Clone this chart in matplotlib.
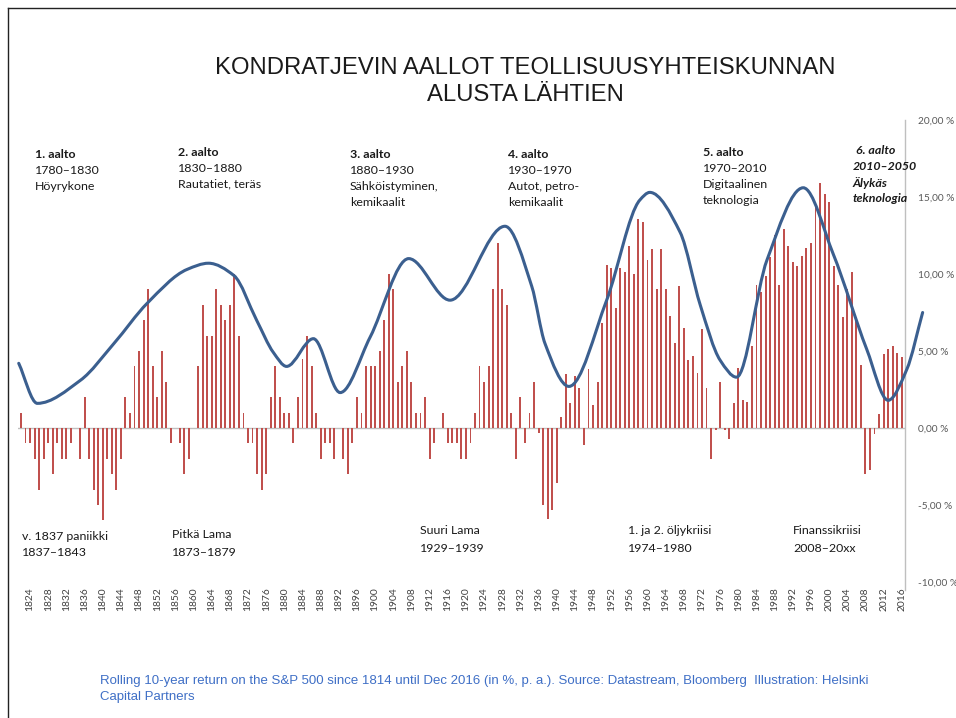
import matplotlib
matplotlib.use("Agg")
import matplotlib.pyplot as plt
from matplotlib.path import Path
from matplotlib.patches import PathPatch
from matplotlib.lines import Line2D

# ---------------- data ----------------
first_year = 1822
returns = [
    1, -1, -1, -2, -4, -2, -1, -3, -1, -2,          # 1822-1831
    -2, -1, 0, -2, 2, -2, -4, -5, -6, -2,           # 1832-1841
    -3, -4, -2, 2, 1, 4, 5, 7, 9, 4,                # 1842-1851
    2, 5, 3, -1, 0, -1, -3, -2, 0, 4,               # 1852-1861
    8, 6, 6, 9, 8, 7, 8, 10, 6, 1,                  # 1862-1871
    -1, -1, -3, -4, -3, 2, 4, 2, 1, 1,              # 1872-1881
    -1, 2, 4.5, 6, 4, 1, -2, -1, -1, -2,            # 1882-1891
    0, -2, -3, -1, 2, 1, 4, 4, 4, 5,                # 1892-1901
    7, 10, 9, 3, 4, 5, 3, 1, 1, 2,                  # 1902-1911
    -2, -1, 0, 1, -1, -1, -1, -2, -2, -1,           # 1912-1921
    1, 4, 3, 4, 9, 12, 9, 8, 1, -2,                 # 1922-1931
    2, -1, 1, 3, -0.3, -5.0, -5.9, -5.3, -3.6, 0.7, # 1932-1941
    3.5, 1.6, 3.4, 2.6, -1.1, 3.8, 1.5, 3.0, 6.8, 10.6,   # 1942-1951
    10.4, 7.8, 10.4, 10.1, 11.8, 10.0, 13.6, 13.4, 10.9, 11.6,  # 1952-1961
    9.0, 11.6, 9.0, 7.3, 5.5, 9.2, 6.5, 4.4, 4.7, 3.6,    # 1962-1971
    6.4, 2.6, -2.0, -0.1, 3.0, -0.1, -0.7, 1.6, 3.9, 1.8, # 1972-1981
    1.7, 5.3, 9.3, 8.8, 9.9, 11.1, 12.5, 9.3, 12.9, 11.8, # 1982-1991
    10.8, 10.5, 11.2, 11.7, 12.0, 14.6, 15.9, 15.2, 14.7, 10.5,  # 1992-2001
    9.3, 7.2, 9.0, 10.1, 7.2, 4.1, -3.0, -2.7, -0.4, 0.9,  # 2002-2011
    4.8, 5.1, 5.3, 4.9, 4.6,                         # 2012-2016
]
years = list(range(first_year, first_year + len(returns)))

# Kondratiev wave control points (year, %)
wave_years = [1821.5, 1825.6, 1835.1, 1842.5, 1849.8, 1858.6, 1863.3, 1868.9,
              1873.9, 1877.6, 1880.5, 1886.4, 1892.3, 1898.9, 1907.4, 1916.5,
              1928.6, 1934.5, 1937.4, 1942.7, 1951.0, 1958.3, 1960.5, 1967.2,
              1971.6, 1976.0, 1979.6, 1986.3, 1994.3, 2000.9, 2008.3, 2013.0,
              2017.1, 2020.6]
wave_vals = [4.2, 1.6, 3.1, 5.5, 8.1, 10.3, 10.7, 9.9,
             7.0, 4.9, 4.0, 5.8, 2.3, 5.9, 11.0, 8.3,
             13.1, 9.2, 5.5, 2.7, 8.3, 14.8, 15.3, 12.7,
             8.0, 4.4, 3.3, 10.9, 15.6, 11.3, 5.1, 1.8,
             3.8, 7.5]

tick_years = list(range(1824, 2017, 4))
y_ticks = [-10, -5, 0, 5, 10, 15, 20]

waves_top = [
    (35, 154, ["1. aalto", "1780–1830", "Höyrykone"]),
    (178, 152, ["2. aalto", "1830–1880", "Rautatiet, teräs"]),
    (350, 155, ["3. aalto", "1880–1930", "Sähköistyminen,", "kemikaalit"]),
    (508, 155, ["4. aalto", "1930–1970", "Autot, petro-", "kemikaalit"]),
    (703, 153, ["5. aalto", "1970–2010", "Digitaalinen", "teknologia"]),
]
wave6 = (853, 151, ["6. aalto", "2010–2050", "Älykäs", "teknologia"])
crises = [
    (22, 536, ["v. 1837 paniikki", "1837–1843"]),
    (172, 535, ["Pitkä Lama", "1873–1879"]),
    (420, 531, ["Suuri Lama", "1929–1939"]),
    (628, 531, ["1. ja 2. öljykriisi", "1974–1980"]),
    (793, 531, ["Finanssikriisi", "2008–20xx"]),
]

# ---------------- figure ----------------
W, H = 956, 718
fig = plt.figure(figsize=(W / 100, H / 100), dpi=100)
fig.patch.set_facecolor("white")

def fx(x):
    return x / W

def fy(y):
    return 1 - y / H

left_px, right_px, top_px, bot_px = 18, 905, 120, 582
ax = fig.add_axes([fx(left_px), fy(bot_px), (right_px - left_px) / W, (bot_px - top_px) / H])
px_per_year = 4.54
x0 = first_year - (21 - left_px) / px_per_year
x1 = first_year + (right_px - 21) / px_per_year
ax.set_xlim(x0, x1)
ax.set_ylim(-10, 20)

bar_col = "#c0504d"
ax.bar(years, returns, width=0.42, color=bar_col, zorder=2, linewidth=0)
ax.axhline(0, color="#bfbfbf", lw=1.0, zorder=1)

# smooth wave via monotone cubic Hermite -> Bezier
def pchip_slopes(xs, ys):
    n = len(xs)
    h = [xs[i + 1] - xs[i] for i in range(n - 1)]
    d = [(ys[i + 1] - ys[i]) / h[i] for i in range(n - 1)]
    m = [0.0] * n
    m[0] = d[0]
    m[-1] = d[-1]
    for k in range(1, n - 1):
        if d[k - 1] * d[k] <= 0:
            m[k] = 0.0
        else:
            w1 = 2 * h[k] + h[k - 1]
            w2 = h[k] + 2 * h[k - 1]
            m[k] = (w1 + w2) / (w1 / d[k - 1] + w2 / d[k])
    return m

m = pchip_slopes(wave_years, wave_vals)
verts = [(wave_years[0], wave_vals[0])]
codes = [Path.MOVETO]
for i in range(len(wave_years) - 1):
    xa, xb = wave_years[i], wave_years[i + 1]
    ya, yb = wave_vals[i], wave_vals[i + 1]
    hh = xb - xa
    verts += [(xa + hh / 3, ya + m[i] * hh / 3), (xb - hh / 3, yb - m[i + 1] * hh / 3), (xb, yb)]
    codes += [Path.CURVE4] * 3
patch = PathPatch(Path(verts, codes), facecolor="none", edgecolor="#3b5f8f", lw=2.2,
                  zorder=3, clip_on=False, capstyle="round")
ax.add_patch(patch)

for s in ["top", "left", "bottom"]:
    ax.spines[s].set_visible(False)
ax.spines["right"].set_color("#bfbfbf")
ax.spines["right"].set_linewidth(1.0)
ax.spines["right"].set_bounds(-10.5, 20)
ax.yaxis.tick_right()
ax.set_yticks(y_ticks)
ax.set_yticklabels([f"{v:.2f}".replace(".", ",") + " %" for v in y_ticks],
                   fontsize=7.3, color="#595959", family="Lato")
ax.tick_params(axis="y", length=0, pad=9)
ax.set_xticks(tick_years)
ax.set_xticklabels([str(y) for y in tick_years], rotation=90, fontsize=7.4,
                   color="#404040", family="Lato")
ax.tick_params(axis="x", length=0, pad=4)
ax.patch.set_alpha(0)

# ---------------- texts ----------------
fig.text(fx(525), fy(68), "KONDRATJEVIN AALLOT TEOLLISUUSYHTEISKUNNAN",
         ha="center", va="center", fontsize=17.2, family="Liberation Sans", color="#1a1a1a")
fig.text(fx(525), fy(95), "ALUSTA LÄHTIEN",
         ha="center", va="center", fontsize=17.2, family="Liberation Sans", color="#1a1a1a")

step = 16
fs_ann = 8.9
for x, y, lines in waves_top:
    for j, t in enumerate(lines):
        fig.text(fx(x), fy(y + j * step), t, ha="left", va="center", fontsize=fs_ann,
                 family="Lato", color="#1a1a1a", fontweight="bold" if j == 0 else "normal")
x, y, lines = wave6
for j, t in enumerate(lines):
    fig.text(fx(x + (3 if j == 0 else 0)), fy(y + j * step), t, ha="left", va="center",
             fontsize=fs_ann, family="Lato", color="#1a1a1a", fontweight="bold", style="italic")

for x, y, lines in crises:
    for j, t in enumerate(lines):
        fig.text(fx(x), fy(y + j * 17), t, ha="left", va="center", fontsize=fs_ann,
                 family="Lato", color="#1a1a1a")

src_col = "#3f6fc6"
fig.text(fx(100), fy(681), "Rolling 10-year return on the S&P 500 since 1814 until Dec 2016 (in %, p. a.). "
         "Source: Datastream, Bloomberg  Illustration: Helsinki",
         ha="left", va="center", fontsize=9.5, family="Liberation Sans", color=src_col)
fig.text(fx(100), fy(697), "Capital Partners", ha="left", va="center", fontsize=9.5,
         family="Liberation Sans", color=src_col)

# slide frame
fig.add_artist(Line2D([fx(8), fx(956)], [fy(8), fy(8)], color="#222222", lw=1.0))
fig.add_artist(Line2D([fx(8), fx(8)], [fy(8), fy(718)], color="#222222", lw=1.0))

fig.savefig("out.png", dpi=100)
